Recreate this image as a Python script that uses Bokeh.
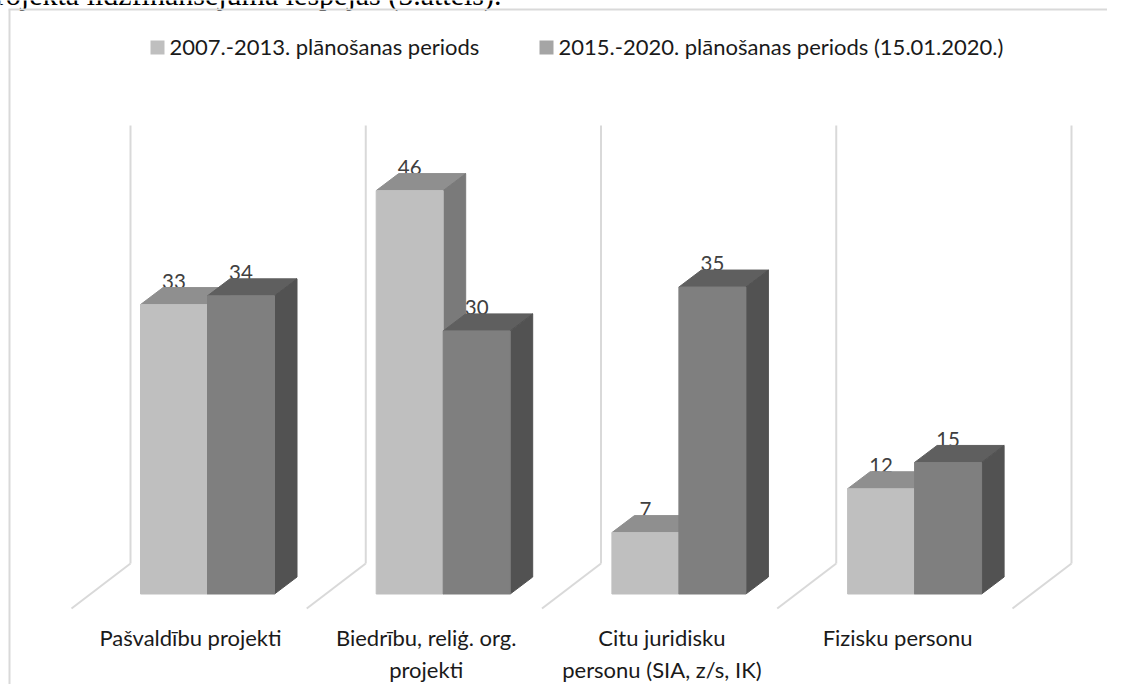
from bokeh.plotting import figure
from bokeh.embed import file_html
from bokeh.resources import INLINE
from bokeh.models import Range1d, LinearAxis, FixedTicker
from bokeh.core.properties import value

categories = ["Pašvaldību projekti", "Biedrību, reliģ. org.\nprojekti",
              "Citu juridisku\npersonu (SIA, z/s, IK)", "Fizisku personu"]
series_a_name = "2007.-2013. plānošanas periods"
series_b_name = "2015.-2020. plānošanas periods (15.01.2020.)"
series_a = [33, 46, 7, 12]
series_b = [34, 30, 35, 15]
caption = "projekta līdzfinansējuma iespējas (5.attēls)."

W, H = 1107, 684
PX_X0, PX_XU = 207.0, 235.7     # px of group centre 0, px per category
PX_Y0, PX_YU = 593.5, 8.77      # px of value 0, px per unit
def X(px): return (px - PX_X0) / PX_XU
def Y(py): return (PX_Y0 - py) / PX_YU

BW = 67 / PX_XU
DX, DY = 22.5 / PX_XU, 17 / PX_YU
FONT = value("Lato")

p = figure(width=W, height=H, output_backend="svg", toolbar_location=None,
           x_range=Range1d(X(0), X(W)), y_range=Range1d(Y(H), Y(0)),
           min_border=0, x_axis_type=None, y_axis_type=None)
p.outline_line_color = None
p.xgrid.visible = False
p.ygrid.visible = False

# text cut off at the top of the picture
p.text(x=[X(501)], y=[Y(-6)], text=[caption], text_font=value("Liberation Serif"),
       text_font_size="30px", text_color="#000000", text_align="right", text_baseline="alphabetic")

# chart frame
WALL = "#d9d9d9"
p.segment(x0=[X(9), X(8)], y0=[Y(H), Y(9)], x1=[X(9), X(W)], y1=[Y(9), Y(9)],
          line_color=WALL, line_width=2)

# back walls and floor lines
wall_idx = list(range(len(categories) + 1))
wx = [X(130 + 235.25 * i) for i in wall_idx]
wfx = [X(71 + 235.25 * i) for i in wall_idx]
p.segment(x0=wx, y0=[Y(125)] * 5, x1=wx, y1=[Y(563)] * 5, line_color=WALL, line_width=2)
p.segment(x0=wx, y0=[Y(563)] * 5, x1=wfx, y1=[Y(608)] * 5, line_color=WALL, line_width=2)

# data labels (beneath the bars, which clip them slightly)
idx = list(range(len(categories)))
for vals, off in ((series_a, -BW / 2), (series_b, BW / 2)):
    p.text(x=[i + off for i in idx], y=[v + DY - 0.12 for v in vals], text=[str(v) for v in vals],
           text_font=FONT, text_font_size="20.5px", text_color="#404040",
           text_align="center", text_baseline="bottom")

def bars(vals, left_off, front, top, side):
    l = [i + left_off for i in idx]
    r = [a + BW for a in l]
    p.patches(xs=[[a, b, b + DX, a + DX] for a, b in zip(l, r)],
              ys=[[v, v, v + DY, v + DY] for v in vals],
              fill_color=top, line_color=top, line_width=1)
    p.patches(xs=[[b, b + DX, b + DX, b] for b in r],
              ys=[[0, DY, v + DY, v] for v in vals],
              fill_color=side, line_color=side, line_width=1)
    p.quad(left=l, right=r, bottom=[0] * len(l), top=vals,
           fill_color=front, line_color=front, line_width=1)

bars(series_a, -BW, "#bfbfbf", "#8f8f8f", "#7a7a7a")
bars(series_b, 0, "#7f7f7f", "#5f5f5f", "#525252")

# legend
p.quad(left=[X(150), X(539)], right=[X(164), X(553)], bottom=[Y(54)] * 2, top=[Y(40)] * 2,
       fill_color=["#bfbfbf", "#a5a5a5"], line_color=None)
p.text(x=[X(169), X(558)], y=[Y(45.5)] * 2, text=[series_a_name, series_b_name],
       text_font=FONT, text_font_size="22px", text_color="#1a1a1a",
       text_align="left", text_baseline="middle")

# category axis
ax = LinearAxis(ticker=FixedTicker(ticks=[i - 17 / PX_XU for i in idx]),
                major_label_overrides={i - 17 / PX_XU: c for i, c in zip(idx, categories)},
                fixed_location=Y(613), axis_line_color=None,
                major_tick_line_color=None, minor_tick_line_color=None,
                major_label_text_font="Lato", major_label_text_font_size="22px",
                major_label_text_color="#1a1a1a", major_label_standoff=4)
p.add_layout(ax, "below")

open("out.html", "w").write(file_html(p, INLINE))
